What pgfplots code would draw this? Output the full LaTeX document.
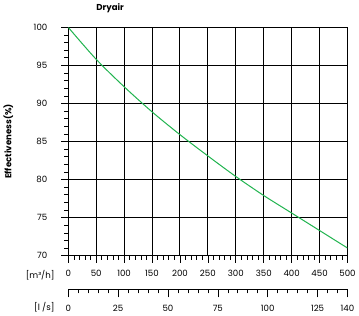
\documentclass[border=0pt]{standalone}
\usepackage{pgfplots}
\pgfplotsset{compat=1.18}
\usepackage{fontspec}
\setmainfont{Poppins}
\definecolor{curvegreen}{RGB}{34,180,80}
\begin{document}
\begin{tikzpicture}[font=\fontsize{8.5}{10}\selectfont]
\begin{axis}[at={(0,0)},
  scale only axis, width=274bp, height=224bp,
  xmin=0, xmax=500, ymin=70, ymax=100,
  axis line style={black, line width=0.8pt},
  xtick pos=bottom, ytick pos=left,
  xtick={0,50,100,150,200,250,300,350,400,450,500},
  xticklabels={0,50,100,150,200,250,300,350,400,450,500},
  ytick={70,75,80,85,90,95,100},
  yticklabels={70,75,80,85,90,95,100},
  minor xtick={10,20,30,40,60,70,80,90,110,120,130,140,160,170,180,190,210,220,230,240,260,270,280,290,310,320,330,340,360,370,380,390,410,420,430,440,460,470,480,490},
  minor ytick={71,72,73,74,76,77,78,79,81,82,83,84,86,87,88,89,91,92,93,94,96,97,98,99},
  tick align=outside,
  tick style={black, line width=0.6pt},
  major tick length=7bp, minor tick length=4bp,
  ymajorgrids, xmajorgrids,
  major grid style={black, line width=1pt},
  xticklabel style={yshift=-4bp},
  yticklabel style={xshift=-10bp},
  title={\bfseries Dryair},
  title style={at={(axis description cs:0.15,1)}, anchor=south, yshift=5bp},
  ylabel={\bfseries Effectiveness(\%)},
  ylabel style={at={(axis description cs:-0.215,0.5)}, anchor=center},
  xlabel={{[}m³/h]},
  xlabel style={at={(axis description cs:0,0)}, anchor=east, xshift=-10bp, yshift=-19bp},
]
\addplot[curvegreen, line width=1pt, smooth] coordinates {
(0,100) (50,95.8) (100,92.2) (150,88.9) (200,85.9) (250,83.1)
(300,80.4) (350,77.9) (400,75.6) (450,73.3) (500,71.0)};
\end{axis}
\begin{axis}[at={(0,-33bp)}, anchor=south west,
  scale only axis, width=274bp, height=10bp,
  xmin=0, xmax=140, ymin=0, ymax=1,
  axis x line*=bottom, axis y line=none, ytick=\empty,
  axis line style={black, line width=0.8pt},
  xtick={0,25,50,75,100,125,140},
  xticklabels={0,25,50,75,100,125,140},
  minor xtick={5,10,15,20,30,35,40,45,55,60,65,70,80,85,90,95,105,110,115,120,130,135},
  tick align=outside,
  tick style={black, line width=0.6pt},
  major tick length=8bp, minor tick length=4bp,
  xticklabel style={yshift=-4bp},
  xlabel={{[}l /s]},
  xlabel style={at={(axis description cs:0,0)}, anchor=east, xshift=-10bp, yshift=-18bp},
]
\addplot[draw=none] coordinates {(0,0) (140,0)};
\end{axis}
\end{tikzpicture}
\end{document}
